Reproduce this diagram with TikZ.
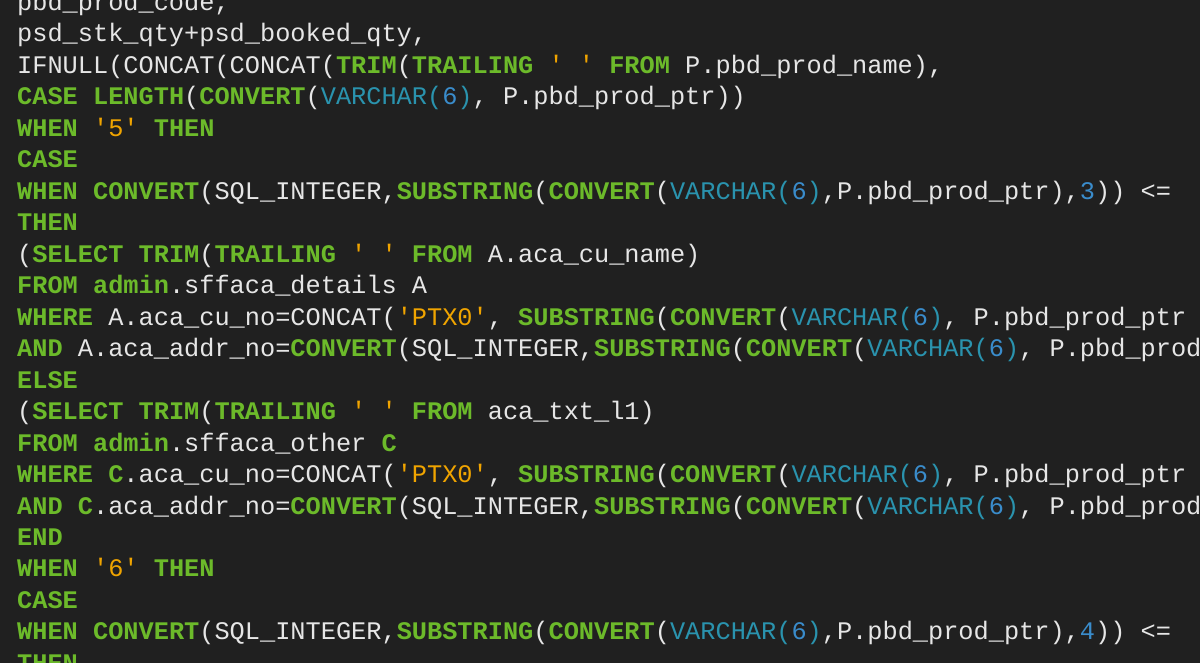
\documentclass[tikz,border=0pt]{standalone}
\usepackage{fontspec}
\newfontfamily\codefont{Liberation Mono}
\definecolor{bgc}{HTML}{202020}
\definecolor{txc}{HTML}{E6E6E6}
\definecolor{kwc}{HTML}{6CBA2A}
\definecolor{stc}{HTML}{F0A400}
\definecolor{tyc}{HTML}{2A93AE}
\definecolor{nuc}{HTML}{3A8CCB}
\newcommand{\Kw}[1]{\textcolor{kwc}{\bfseries #1}}
\newcommand{\St}[1]{\textcolor{stc}{#1}}
\newcommand{\Ty}[1]{\textcolor{tyc}{#1}}
\newcommand{\Nu}[1]{\textcolor{nuc}{#1}}
\newcommand{\q}{\textquotesingle}
\newcommand{\VC}{\Ty{VARCHAR(}\Nu{6}\Ty{)}}
\tikzset{codeline/.style={anchor=base west,inner sep=0pt,font=\codefont\fontsize{25.3}{31}\selectfont,text=txc}}
\begin{document}
\begin{tikzpicture}[x=1pt,y=-1pt]
\fill[bgc] (0,0) rectangle (1200,663);
\useasboundingbox (0,0) rectangle (1200,663);
\clip (0,0) rectangle (1200,663);
\def\ls{31.47}
\node[codeline] (l0) at (17,10.5+0*\ls) {pbd\_prod\_code,};
\node[codeline] (l1) at (17,10.5+1*\ls) {psd\_stk\_qty+psd\_booked\_qty,};
\node[codeline] (l2) at (17,10.5+2*\ls) {IFNULL(CONCAT(CONCAT(\Kw{TRIM}(\Kw{TRAILING} \St{\q\ \q} \Kw{FROM} P.pbd\_prod\_name),};
\node[codeline] (l3) at (17,10.5+3*\ls) {\Kw{CASE} \Kw{LENGTH}(\Kw{CONVERT}(\VC, P.pbd\_prod\_ptr))};
\node[codeline] (l4) at (17,10.5+4*\ls) {\Kw{WHEN} \St{\q5\q} \Kw{THEN}};
\node[codeline] (l5) at (17,10.5+5*\ls) {\Kw{CASE}};
\node[codeline] (l6) at (17,10.5+6*\ls) {\Kw{WHEN} \Kw{CONVERT}(SQL\_INTEGER,\Kw{SUBSTRING}(\Kw{CONVERT}(\VC,P.pbd\_prod\_ptr),\Nu{3})) <=};
\node[codeline] (l7) at (17,10.5+7*\ls) {\Kw{THEN}};
\node[codeline] (l8) at (17,10.5+8*\ls) {(\Kw{SELECT} \Kw{TRIM}(\Kw{TRAILING} \St{\q\ \q} \Kw{FROM} A.aca\_cu\_name)};
\node[codeline] (l9) at (17,10.5+9*\ls) {\Kw{FROM} \Kw{admin}.sffaca\_details A};
\node[codeline] (l10) at (17,10.5+10*\ls) {\Kw{WHERE} A.aca\_cu\_no=CONCAT(\St{\q PTX0\q}, \Kw{SUBSTRING}(\Kw{CONVERT}(\VC, P.pbd\_prod\_ptr};
\node[codeline] (l11) at (17,10.5+11*\ls) {\Kw{AND} A.aca\_addr\_no=\Kw{CONVERT}(SQL\_INTEGER,\Kw{SUBSTRING}(\Kw{CONVERT}(\VC, P.pbd\_prod};
\node[codeline] (l12) at (17,10.5+12*\ls) {\Kw{ELSE}};
\node[codeline] (l13) at (17,10.5+13*\ls) {(\Kw{SELECT} \Kw{TRIM}(\Kw{TRAILING} \St{\q\ \q} \Kw{FROM} aca\_txt\_l1)};
\node[codeline] (l14) at (17,10.5+14*\ls) {\Kw{FROM} \Kw{admin}.sffaca\_other \Kw{C}};
\node[codeline] (l15) at (17,10.5+15*\ls) {\Kw{WHERE} \Kw{C}.aca\_cu\_no=CONCAT(\St{\q PTX0\q}, \Kw{SUBSTRING}(\Kw{CONVERT}(\VC, P.pbd\_prod\_ptr};
\node[codeline] (l16) at (17,10.5+16*\ls) {\Kw{AND} \Kw{C}.aca\_addr\_no=\Kw{CONVERT}(SQL\_INTEGER,\Kw{SUBSTRING}(\Kw{CONVERT}(\VC, P.pbd\_prod};
\node[codeline] (l17) at (17,10.5+17*\ls) {\Kw{END}};
\node[codeline] (l18) at (17,10.5+18*\ls) {\Kw{WHEN} \St{\q6\q} \Kw{THEN}};
\node[codeline] (l19) at (17,10.5+19*\ls) {\Kw{CASE}};
\node[codeline] (l20) at (17,10.5+20*\ls) {\Kw{WHEN} \Kw{CONVERT}(SQL\_INTEGER,\Kw{SUBSTRING}(\Kw{CONVERT}(\VC,P.pbd\_prod\_ptr),\Nu{4})) <=};
\node[codeline] (l21) at (17,10.5+21*\ls) {\Kw{THEN}};
\end{tikzpicture}
\end{document}
